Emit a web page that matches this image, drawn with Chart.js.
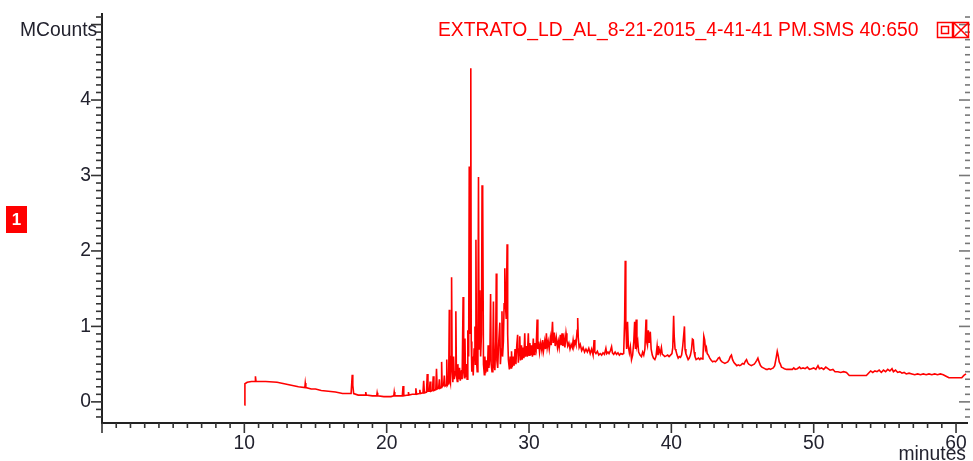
<!DOCTYPE html>
<html>
<head>
<meta charset="utf-8">
<script src="https://cdn.jsdelivr.net/npm/chart.js@4.4.1/dist/chart.umd.min.js"></script>
<style>
  html, body { margin: 0; padding: 0; background: #ffffff; }
  #wrap { width: 973px; height: 461px; position: relative; }
</style>
</head>
<body>
<div id="wrap"><canvas id="c" width="973" height="461"></canvas></div>
<script>
// ---- Data ----
const chartTitle = 'EXTRATO_LD_AL_8-21-2015_4-41-41 PM.SMS 40:650';
const yAxisTitle = 'MCounts';
const xAxisTitle = 'minutes';
const traceLabel = '1';
const xTickLabels = [10, 20, 30, 40, 50, 60];
const yTickLabels = [0, 1, 2, 3, 4];

// retention time (minutes)
const retentionTime = [
  10.00,10.04,10.20,10.50,10.75,10.78,10.82,11.50,12.30,12.80,13.30,13.80,14.25,14.28,14.32,14.70,15.00,15.40,15.90,16.40,
  16.90,17.50,17.58,17.62,17.68,18.00,18.50,18.53,18.57,19.00,19.30,19.33,19.37,19.80,20.30,20.50,20.53,20.57,21.10,21.15,
  21.20,21.50,21.53,21.57,21.80,22.00,22.05,22.10,22.30,22.33,22.37,22.55,22.60,22.65,22.80,22.85,22.90,23.00,23.05,23.10,
  23.22,23.27,23.32,23.45,23.50,23.55,23.65,23.70,23.75,23.82,23.86,23.90,24.00,24.05,24.10,24.18,24.22,24.26,24.32,24.36,
  24.40,24.43,24.48,24.53,24.56,24.60,24.65,24.70,24.75,24.82,24.86,24.90,24.96,25.00,25.05,25.12,25.17,25.26,25.30,25.37,
  25.41,25.46,25.50,25.54,25.60,25.65,25.70,25.76,25.80,25.84,25.88,25.91,25.94,25.98,26.03,26.08,26.14,26.20,26.23,26.27,
  26.31,26.36,26.41,26.45,26.49,26.55,26.60,26.66,26.70,26.73,26.76,26.80,26.86,26.90,26.95,27.02,27.08,27.13,27.18,27.25,
  27.30,27.34,27.40,27.46,27.50,27.54,27.60,27.66,27.70,27.74,27.80,27.86,27.95,27.99,28.05,28.10,28.14,28.20,28.25,28.30,
  28.34,28.40,28.46,28.50,28.55,28.62,28.68,28.74,28.77,28.82,28.90,28.95,29.02,29.08,29.14,29.20,29.25,29.30,29.35,29.40,
  29.47,29.52,29.58,29.64,29.70,29.75,29.82,29.88,29.95,30.00,30.06,30.12,30.18,30.24,30.30,30.35,30.42,30.50,30.57,30.62,
  30.68,30.74,30.82,30.90,30.96,31.02,31.10,31.16,31.22,31.28,31.35,31.42,31.50,31.56,31.65,31.70,31.78,31.84,31.92,32.00,
  32.06,32.12,32.20,32.26,32.32,32.38,32.46,32.52,32.60,32.66,32.72,32.80,32.88,32.96,33.04,33.10,33.16,33.24,33.30,33.38,
  33.42,33.46,33.52,33.60,33.70,33.80,33.90,34.00,34.10,34.20,34.30,34.40,34.50,34.57,34.62,34.70,34.80,34.90,35.00,35.10,
  35.20,35.30,35.40,35.46,35.55,35.62,35.72,35.80,35.86,35.95,36.05,36.15,36.25,36.35,36.45,36.55,36.65,36.72,36.76,36.80,
  36.86,36.92,36.98,37.05,37.12,37.20,37.28,37.36,37.42,37.48,37.53,37.58,37.64,37.70,37.80,37.90,37.98,38.06,38.14,38.22,
  38.26,38.32,38.38,38.44,38.52,38.58,38.66,38.74,38.84,38.92,39.00,39.06,39.14,39.22,39.30,39.36,39.44,39.54,39.64,39.74,
  39.84,39.94,40.04,40.10,40.16,40.20,40.26,40.32,40.40,40.48,40.56,40.64,40.72,40.80,40.86,40.92,40.96,41.02,41.10,41.18,
  41.26,41.34,41.42,41.48,41.54,41.60,41.66,41.74,41.82,41.90,42.00,42.08,42.16,42.22,42.28,42.34,42.40,42.46,42.52,42.60,
  42.70,42.80,42.90,43.00,43.10,43.20,43.30,43.38,43.46,43.56,43.66,43.76,43.86,43.96,44.06,44.14,44.22,44.30,44.40,44.50,
  44.60,44.70,44.80,44.90,45.00,45.10,45.20,45.28,45.36,45.44,45.52,45.62,45.72,45.82,45.90,46.00,46.08,46.16,46.26,46.36,
  46.46,46.56,46.66,46.76,46.86,46.96,47.06,47.16,47.26,47.36,47.44,47.50,47.58,47.66,47.74,47.84,47.94,48.10,48.30,48.50,
  48.60,48.70,48.85,49.00,49.10,49.25,49.40,49.55,49.70,49.85,50.00,50.15,50.30,50.40,50.55,50.70,50.85,51.00,51.15,51.35,
  51.50,51.70,51.90,52.10,52.30,52.50,52.80,53.10,53.40,53.70,53.85,54.00,54.15,54.30,54.45,54.60,54.75,54.90,55.05,55.20,
  55.35,55.50,55.60,55.75,55.90,56.05,56.20,56.35,56.50,56.70,56.90,57.10,57.30,57.50,57.70,57.90,58.10,58.30,58.50,58.70,
  58.90,59.10,59.30,59.50,59.80,60.10,60.40,60.55,60.70
];

// intensity (MCounts)
const intensity = [
  -0.04,0.24,0.26,0.27,0.27,0.34,0.27,0.27,0.26,0.24,0.22,0.20,0.19,0.25,0.19,0.17,0.17,0.15,0.14,0.13,
  0.11,0.11,0.36,0.22,0.11,0.09,0.09,0.13,0.09,0.08,0.08,0.12,0.08,0.07,0.07,0.08,0.13,0.08,0.08,0.21,
  0.08,0.09,0.13,0.09,0.10,0.10,0.18,0.10,0.11,0.16,0.11,0.12,0.28,0.12,0.13,0.37,0.14,0.14,0.27,0.14,
  0.15,0.34,0.15,0.16,0.44,0.17,0.18,0.30,0.18,0.19,0.53,0.20,0.22,0.35,0.21,0.22,0.56,0.22,0.24,0.38,
  1.22,0.30,0.25,0.60,1.65,0.45,0.26,0.60,0.30,0.40,1.20,0.35,0.27,0.50,0.30,0.45,0.28,0.42,0.30,1.39,
  0.40,0.32,0.84,0.33,0.50,0.30,0.95,0.60,3.12,0.90,3.10,4.42,0.80,0.40,0.60,0.35,0.70,1.00,0.50,2.15,
  0.55,0.40,0.80,2.98,0.70,1.48,0.60,0.90,2.87,1.20,2.74,0.50,0.36,0.60,0.38,0.55,0.40,0.75,0.45,0.60,
  1.43,0.50,0.40,0.70,1.33,0.50,0.42,0.80,1.70,0.55,0.45,0.75,1.05,0.50,0.70,1.20,0.60,0.80,1.30,1.77,
  1.30,1.10,2.09,0.90,0.56,0.43,0.60,0.45,0.67,0.46,0.60,0.48,0.70,0.50,0.75,0.89,0.52,0.70,0.87,0.55,
  0.75,0.56,0.72,0.58,0.91,0.60,0.74,0.60,0.91,0.62,0.78,0.62,0.75,0.60,0.84,0.63,0.78,0.70,1.09,0.70,
  0.80,0.66,0.78,0.68,0.82,0.68,0.80,0.70,0.91,0.72,0.80,0.70,0.85,0.75,1.06,0.78,0.92,0.74,0.85,0.72,
  0.80,0.72,0.89,0.75,0.91,0.74,0.84,0.72,0.91,0.82,0.74,0.78,0.70,0.76,0.72,0.82,0.74,0.80,0.76,0.95,
  1.11,0.85,0.72,0.76,0.68,0.72,0.66,0.70,0.66,0.71,0.64,0.70,0.62,0.82,0.66,0.64,0.67,0.62,0.64,0.62,
  0.65,0.63,0.71,0.64,0.66,0.64,0.68,0.73,0.65,0.63,0.66,0.63,0.65,0.62,0.64,0.63,0.64,1.10,1.87,1.06,
  0.70,1.06,0.73,0.65,0.73,0.56,0.62,0.80,1.06,0.70,1.09,0.75,0.80,0.66,0.62,0.60,0.66,0.62,0.70,1.09,
  0.80,0.75,0.95,0.78,0.93,0.70,0.62,0.58,0.56,0.60,0.74,0.62,0.70,0.64,0.72,0.63,0.62,0.60,0.61,0.62,
  0.60,0.62,0.64,0.72,1.14,0.87,0.70,0.68,0.62,0.58,0.60,0.59,0.62,0.74,0.87,1.00,0.70,0.64,0.60,0.56,
  0.58,0.62,0.70,0.83,0.82,0.66,0.60,0.56,0.57,0.58,0.56,0.58,0.57,0.60,0.87,0.82,0.69,0.72,0.64,0.62,
  0.58,0.55,0.53,0.54,0.53,0.55,0.58,0.59,0.55,0.53,0.52,0.51,0.52,0.53,0.56,0.60,0.62,0.56,0.52,0.50,
  0.48,0.49,0.48,0.49,0.51,0.50,0.54,0.56,0.52,0.50,0.49,0.48,0.49,0.50,0.52,0.55,0.58,0.53,0.48,0.46,
  0.45,0.44,0.43,0.43,0.44,0.43,0.44,0.45,0.48,0.58,0.67,0.62,0.53,0.50,0.46,0.45,0.44,0.43,0.43,0.43,
  0.45,0.43,0.44,0.46,0.44,0.45,0.44,0.46,0.43,0.44,0.45,0.43,0.48,0.44,0.45,0.43,0.46,0.44,0.42,0.43,
  0.40,0.40,0.39,0.40,0.39,0.35,0.35,0.35,0.35,0.35,0.38,0.41,0.39,0.41,0.40,0.42,0.39,0.42,0.40,0.43,
  0.41,0.44,0.40,0.42,0.39,0.40,0.38,0.39,0.37,0.38,0.37,0.36,0.37,0.36,0.37,0.36,0.37,0.36,0.37,0.36,
  0.37,0.36,0.34,0.32,0.32,0.32,0.32,0.35,0.37
];

// ---- styling ----
const FONT = "'Liberation Sans', Arial, Helvetica, sans-serif";
const TEXT_DARK = '#22222e';
const RED = '#ff0000';

const points = retentionTime.map((t, i) => ({ x: t, y: intensity[i] }));

const decor = {
  id: 'decor',
  afterDraw(chart) {
    const { ctx, chartArea: a, scales: { x, y } } = chart;
    ctx.save();
    // left axis ticks (major every 1, minor every 0.1)
    ctx.strokeStyle = '#333';
    ctx.lineWidth = 1.6;
    for (let i = Math.ceil(y.min * 10); i <= Math.floor(y.max * 10); i++) {
      const py = y.getPixelForValue(i / 10);
      const len = (i % 10 === 0) ? 11 : 6;
      ctx.beginPath(); ctx.moveTo(a.left - len, py); ctx.lineTo(a.left, py); ctx.stroke();
    }
    // bottom axis ticks (major every 10, minor every 1)
    for (let m = Math.ceil(x.min); m <= Math.floor(x.max); m++) {
      const px = x.getPixelForValue(m);
      const len = (m % 10 === 0) ? 10 : 5;
      ctx.beginPath(); ctx.moveTo(px, a.bottom); ctx.lineTo(px, a.bottom + len); ctx.stroke();
    }
    // right edge ticks
    ctx.strokeStyle = '#777';
    for (let i = Math.ceil(y.min * 10); i <= Math.floor(y.max * 10); i++) {
      const py = y.getPixelForValue(i / 10);
      const len = (i % 10 === 0) ? 11 : 5;
      ctx.beginPath(); ctx.moveTo(a.right + 3 - len, py); ctx.lineTo(a.right + 3, py); ctx.stroke();
    }
    // texts
    ctx.font = '19.3px ' + FONT;
    ctx.fillStyle = TEXT_DARK;
    ctx.textBaseline = 'alphabetic';
    ctx.textAlign = 'left';
    ctx.fillText(yAxisTitle, 20, 36);
    ctx.textAlign = 'right';
    ctx.fillText(xAxisTitle, 966, 460);
    ctx.fillStyle = RED;
    ctx.textAlign = 'left';
    ctx.fillText(chartTitle, 438, 36);
    // icons
    ctx.strokeStyle = RED;
    ctx.lineWidth = 1.5;
    ctx.strokeRect(937.5, 22.5, 15, 15);
    ctx.strokeRect(941.5, 26.5, 7, 7);
    ctx.strokeRect(953.5, 22.5, 15, 15);
    ctx.beginPath();
    ctx.moveTo(953.5, 22.5); ctx.lineTo(968.5, 37.5);
    ctx.moveTo(968.5, 22.5); ctx.lineTo(953.5, 37.5);
    ctx.stroke();
    // trace marker box
    ctx.fillStyle = RED;
    ctx.fillRect(6, 206, 21, 27);
    ctx.fillStyle = '#ffffff';
    ctx.font = 'bold 17px ' + FONT;
    ctx.textAlign = 'center';
    ctx.textBaseline = 'middle';
    ctx.fillText(traceLabel, 16.5, 220);
    ctx.restore();
  }
};

new Chart(document.getElementById('c'), {
  type: 'scatter',
  data: {
    datasets: [{
      data: points,
      showLine: true,
      borderColor: RED,
      borderWidth: 1.6,
      pointRadius: 0,
      pointHoverRadius: 0,
      tension: 0,
      fill: false
    }]
  },
  options: {
    responsive: false,
    animation: false,
    events: [],
    layout: { padding: { top: 14, right: 6, left: 0, bottom: 0 } },
    plugins: { legend: { display: false }, tooltip: { enabled: false }, title: { display: false } },
    scales: {
      x: {
        type: 'linear',
        min: 0,
        max: 60.77,
        position: 'bottom',
        afterFit(s) { s.height = 38; s.paddingLeft = 0; s.paddingRight = 0; },
        grid: { display: false, drawTicks: false },
        border: { display: true, color: '#222', width: 2 },
        ticks: {
          stepSize: 10,
          includeBounds: false,
          maxRotation: 0,
          autoSkip: false,
          padding: 9,
          color: TEXT_DARK,
          font: { family: FONT, size: 19.3 },
          callback: (v) => xTickLabels.includes(v) ? String(v) : ''
        }
      },
      y: {
        type: 'linear',
        min: -0.28,
        max: 5.14,
        afterFit(s) { s.width = 102; s.paddingTop = 0; s.paddingBottom = 0; },
        grid: { display: false, drawTicks: false },
        border: { display: true, color: '#222', width: 2 },
        ticks: {
          stepSize: 1,
          includeBounds: false,
          autoSkip: false,
          padding: 11,
          color: TEXT_DARK,
          font: { family: FONT, size: 19.3 },
          callback: (v) => yTickLabels.includes(v) ? String(v) : ''
        }
      }
    }
  },
  plugins: [decor]
});
</script>
</body>
</html>
